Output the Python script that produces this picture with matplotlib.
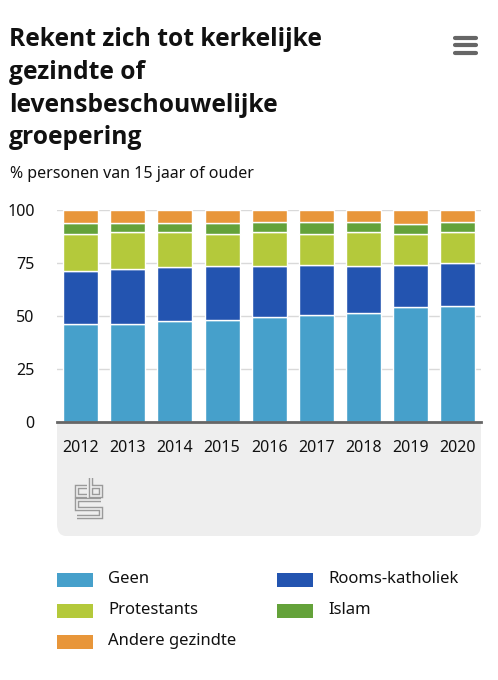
import matplotlib
matplotlib.use("Agg")
import matplotlib.pyplot as plt
from matplotlib.patches import FancyBboxPatch, Rectangle
from matplotlib.lines import Line2D
import numpy as np

years = ["2012", "2013", "2014", "2015", "2016", "2017", "2018", "2019", "2020"]
geen = [46.3, 46.3, 47.5, 48.1, 49.5, 50.6, 51.6, 54.3, 54.9]
rooms_katholiek = [25.1, 26.0, 25.4, 25.5, 24.1, 23.6, 22.0, 19.9, 19.9]
protestants = [17.4, 17.2, 16.6, 15.2, 15.8, 14.6, 15.9, 14.6, 14.6]
islam = [4.8, 4.1, 4.1, 4.8, 4.9, 5.5, 4.8, 4.5, 4.9]
andere = [6.4, 6.4, 6.4, 6.4, 5.7, 5.7, 5.7, 6.7, 5.7]

series_names = ["Geen", "Rooms-katholiek", "Protestants", "Islam", "Andere gezindte"]
series_values = [geen, rooms_katholiek, protestants, islam, andere]
series_colors = ["#46a0cb", "#2354b0", "#b4c93b", "#64a23a", "#e8963a"]

yticks = [0, 25, 50, 75, 100]

W, H = 498, 680
FONT = ["Noto Sans", "DejaVu Sans"]
plt.rcParams["font.family"] = FONT

fig = plt.figure(figsize=(W / 100, H / 100), dpi=100)
fig.patch.set_facecolor("white")


def fx(x):
    return x / W


def fy(y):
    return 1 - y / H


# grey panel under the axis
panel = FancyBboxPatch((fx(57), fy(536)), fx(481) - fx(57), fy(400) - fy(536),
                       boxstyle="round,pad=0,rounding_size=0.018",
                       transform=fig.transFigure, facecolor="#eeeeee",
                       edgecolor="none", zorder=0)
fig.add_artist(panel)

ax = fig.add_axes([fx(57), fy(422.3), fx(481) - fx(57), fy(209.8) - fy(422.3)])
ax.set_zorder(2)
ax.set_facecolor("white")

x = np.arange(len(years))
bottom = np.zeros(len(years))
for name, vals, col in zip(series_names, series_values, series_colors):
    v = np.array(vals)
    ax.bar(x, v, bottom=bottom, width=0.745, color=col, edgecolor="white",
           linewidth=1.0, zorder=3, label=name)
    bottom += v

ax.set_xlim(-0.5, 8.49)
ax.set_ylim(0, 100)
ax.set_yticks(yticks)
ax.set_yticklabels([str(t) for t in yticks])
ax.set_xticks(x)
ax.set_xticklabels(years)
ax.yaxis.grid(True, color="#d9d9d9", linewidth=1.0, zorder=0)
ax.set_axisbelow(True)
for s in ["top", "right", "left"]:
    ax.spines[s].set_visible(False)
ax.spines["bottom"].set_color("#666666")
ax.spines["bottom"].set_linewidth(2.0)
ax.spines["bottom"].set_zorder(4)
ax.tick_params(axis="y", length=0, pad=16, labelsize=11.5, labelcolor="#111111")
ax.tick_params(axis="x", length=0, pad=12.5, labelsize=11.5, labelcolor="#111111")

# title (bold), fitted to the reference line width
title_lines = ["Rekent zich tot kerkelijke", "gezindte of", "levensbeschouwelijke", "groepering"]
TFONT = ["Open Sans", "DejaVu Sans"]
probe = fig.text(0, 0, title_lines[0], fontsize=18, fontweight="bold", family=TFONT)
fig.canvas.draw()
wpx = probe.get_window_extent().width
probe.remove()
tsize = 18 * 313.0 / wpx
for i, line in enumerate(title_lines):
    fig.text(fx(9), fy(40 + i * 32.5), line, fontsize=tsize, fontweight="bold",
             family=TFONT, color="#111111", va="center", ha="left")

fig.text(fx(10), fy(174), "% personen van 15 jaar of ouder", fontsize=11.5,
         color="#111111", va="center", ha="left")

# hamburger icon
for yy in [37.5, 45, 52.5]:
    fig.add_artist(Line2D([fx(455), fx(476)], [fy(yy), fy(yy)], transform=fig.transFigure,
                          color="#666666", linewidth=3.0, solid_capstyle="round"))

# cbs logo (outline-style strokes)
ox, oy = 75, 478
logo_paths = [
    [(12, 9), (2, 9), (2, 18), (12, 18)],
    [(16, 0), (16, 18), (26, 18), (26, 9), (16, 9)],
    [(26, 22), (2, 22), (2, 30.5), (26, 30.5), (26, 39), (2, 39)],
]
for pth in logo_paths:
    xs = [fx(ox + p[0]) for p in pth]
    ys = [fy(oy + p[1]) for p in pth]
    fig.add_artist(Line2D(xs, ys, transform=fig.transFigure, color="#9a9a9a",
                          linewidth=3.2, solid_joinstyle="miter", solid_capstyle="butt", zorder=1))
    fig.add_artist(Line2D(xs, ys, transform=fig.transFigure, color="#eeeeee",
                          linewidth=1.2, solid_joinstyle="miter", solid_capstyle="butt", zorder=1))

# legend
legend_order = [0, 1, 2, 3, 4]
leg_pos = [(57, 580), (277, 580), (57, 611), (277, 611), (57, 642)]
for idx, (lx, ly) in zip(legend_order, leg_pos):
    fig.add_artist(Rectangle((fx(lx), fy(ly + 7)), fx(36), 14 / H, transform=fig.transFigure,
                             facecolor=series_colors[idx], edgecolor="none"))
    fig.text(fx(lx + 51), fy(ly - 1), series_names[idx], fontsize=12, color="#111111",
             va="center", ha="left")

fig.savefig("out.png", dpi=100, facecolor="white")
